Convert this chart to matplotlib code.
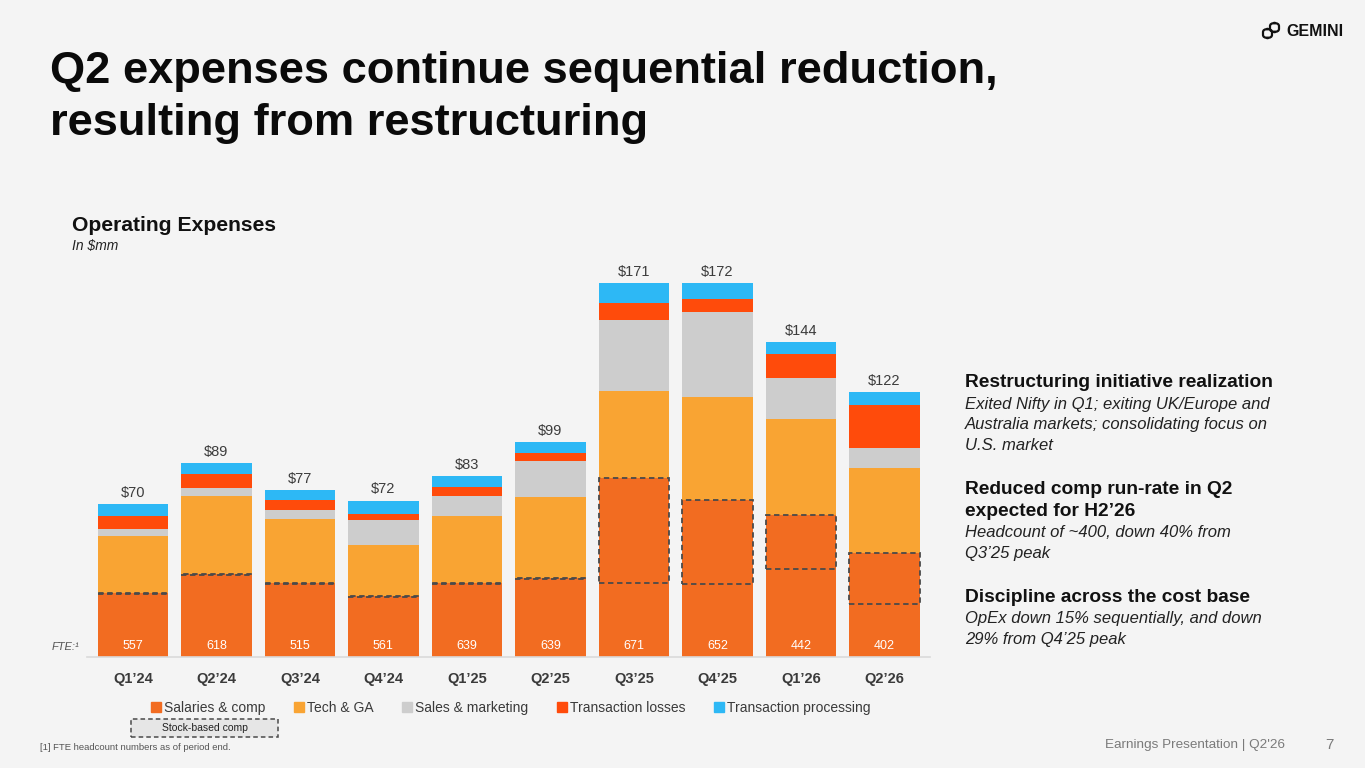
import matplotlib.pyplot as plt
import matplotlib.patches as mpatches
from matplotlib.lines import Line2D
import numpy as np

plt.rcParams['font.family'] = ['Liberation Sans', 'DejaVu Sans']

#%% data ($mm)
quarters = ["Q1\u201924", "Q2\u201924", "Q3\u201924", "Q4\u201924", "Q1\u201925",
            "Q2\u201925", "Q3\u201925", "Q4\u201925", "Q1\u201926", "Q2\u201926"]
salaries = [29.2, 37.9, 33.7, 27.9, 33.7, 36.0, 82.0, 72.1, 65.2, 47.5]
tech_ga = [26.5, 36.0, 29.7, 23.3, 31.0, 37.4, 40.3, 47.5, 44.2, 39.3]
sales_mkt = [3.1, 3.7, 4.0, 11.5, 9.1, 16.6, 32.7, 39.0, 18.9, 9.2]
tx_losses = [6.0, 6.3, 4.9, 3.1, 4.3, 3.5, 7.8, 6.0, 11.0, 19.8]
tx_processing = [5.4, 5.1, 4.3, 6.0, 5.1, 5.2, 8.9, 7.2, 5.5, 6.0]
stock_comp = [0.4, 0.4, 0.4, 0.4, 0.4, 0.4, 48.0, 38.8, 24.7, 23.2]
totals = [70, 89, 77, 72, 83, 99, 171, 172, 144, 122]
fte = [557, 618, 515, 561, 639, 639, 671, 652, 442, 402]

series = [("Salaries & comp", salaries, '#F26C21'),
          ("Tech & GA", tech_ga, '#F9A433'),
          ("Sales & marketing", sales_mkt, '#CDCDCD'),
          ("Transaction losses", tx_losses, '#FF4B0B'),
          ("Transaction processing", tx_processing, '#2DB8F5')]

BG = '#F4F4F4'
W, H = 1365, 768

fig = plt.figure(figsize=(W / 100, H / 100), dpi=100, facecolor=BG)

def fx(px):
    return px / W

def fy(py):
    return 1 - py / H

#%% chart
ax = fig.add_axes([fx(87), fy(656.7), fx(843.4), 180 * 2.174 / H])
ax.set_facecolor(BG)
x = np.arange(len(quarters))
bw = 0.84
bottom = np.zeros(len(quarters))
for name, vals, col in series:
    ax.bar(x, vals, bw, bottom=bottom, color=col, label=name, linewidth=0)
    bottom += np.array(vals)

# stock-based comp dashed boxes (top part of salaries)
sal = np.array(salaries)
for xi, s_top, sb in zip(x, sal, stock_comp):
    ax.add_patch(mpatches.Rectangle((xi - bw / 2, s_top - sb), bw, sb, fill=False,
                                    edgecolor='#4a4a4a', linestyle=(0, (3, 2)), linewidth=1.3))

for xi, top, t in zip(x, bottom, totals):
    ax.annotate(f"${t}", (xi, top), xytext=(0, 3), textcoords='offset points',
                ha='center', va='bottom', fontsize=10.5, color='#3c3c3c')

for xi, n in zip(x, fte):
    ax.text(xi, 5.1, str(n), ha='center', va='center', fontsize=9, color='white')

ax.set_xlim(-0.55, 9.55)
ax.set_ylim(0, 180)
ax.set_xticks(x)
ax.set_xticklabels(quarters, fontsize=10.5, color='#3a3a3a', fontweight='bold')
ax.tick_params(length=0, pad=11)
ax.set_yticks([])
for s in ['top', 'right', 'left']:
    ax.spines[s].set_visible(False)
ax.spines['bottom'].set_color('#DADADA')
ax.spines['bottom'].set_linewidth(1.2)

fig.text(fx(52), fy(647), "FTE:\u00b9", fontsize=8, style='italic', color='#555555',
         va='center', ha='left')

# legend
leg_handles = [Line2D([], [], marker='s', linestyle='', markersize=6.5, color=c)
               for _, _, c in series]
leg = fig.legend(leg_handles, [s[0] for s in series], loc='center', ncol=5,
                 bbox_to_anchor=(fx(511), fy(708)), frameon=False, fontsize=10,
                 handlelength=0.6, handletextpad=0.25, columnspacing=2.15)
for t in leg.get_texts():
    t.set_color('#3a3a3a')

fig.patches.append(mpatches.Rectangle((fx(131), fy(737)), fx(147), 18 / H,
                                      transform=fig.transFigure, facecolor='#E6E6E6',
                                      edgecolor='#4a4a4a', linestyle=(0, (3, 2)), linewidth=1.1))
fig.text(fx(204.5), fy(728), "Stock-based comp", fontsize=7.5, color='#222222',
         ha='center', va='center')

#%% text
fig.text(fx(50), fy(83), "Q2 expenses continue sequential reduction,", fontsize=32.6,
         fontweight='bold', color='#0a0a0a', va='baseline')
fig.text(fx(50), fy(135), "resulting from restructuring", fontsize=32.6,
         fontweight='bold', color='#0a0a0a', va='baseline')

fig.text(fx(72), fy(231), "Operating Expenses", fontsize=15.2, fontweight='bold',
         color='#111111', va='baseline')
fig.text(fx(72), fy(250), "In $mm", fontsize=10, style='italic', color='#222222',
         va='baseline')

def block(lines, y0, step, **kw):
    for i, ln in enumerate(lines):
        fig.text(fx(965), fy(y0 + i * step), ln, va='baseline', **kw)

bold = dict(fontsize=13.8, fontweight='bold', color='#111111')
ital = dict(fontsize=12, style='italic', color='#222222')
block(["Restructuring initiative realization"], 387, 21, **bold)
block(["Exited Nifty in Q1; exiting UK/Europe and",
       "Australia markets; consolidating focus on",
       "U.S. market"], 408.5, 20.7, **ital)
block(["Reduced comp run-rate in Q2", "expected for H2\u201926"], 493.5, 22.4, **bold)
block(["Headcount of ~400, down 40% from", "Q3\u201925 peak"], 537, 20.7, **ital)
block(["Discipline across the cost base"], 602.5, 21, **bold)
block(["OpEx down 15% sequentially, and down", "29% from Q4\u201925 peak"], 623.5, 20.7, **ital)

# footer
fig.text(fx(40), fy(748), "[1] FTE headcount numbers as of period end.", fontsize=6.8,
         color='#555555', va='center')
fig.text(fx(1105), fy(745), "Earnings Presentation | Q2'26", fontsize=9.7,
         color='#7a7a7a', va='center')
fig.text(fx(1325), fy(745), "7", fontsize=11, color='#7a7a7a', va='center')

# logo
for cx, cy in [(1267.5, 33.5), (1274.5, 27.5)]:
    fig.patches.append(mpatches.FancyBboxPatch((fx(cx - 4.5), fy(cy + 4.5)), fx(9), 9 / H,
                                               boxstyle='round,pad=0,rounding_size=0.004',
                                               transform=fig.transFigure, fill=False,
                                               edgecolor='#111111', linewidth=1.6))
fig.text(fx(1286), fy(31), "GEMINI", fontsize=11.5, color='#111111', va='center',
         fontweight='bold')

fig.savefig('out.png', dpi=100, facecolor=BG)
